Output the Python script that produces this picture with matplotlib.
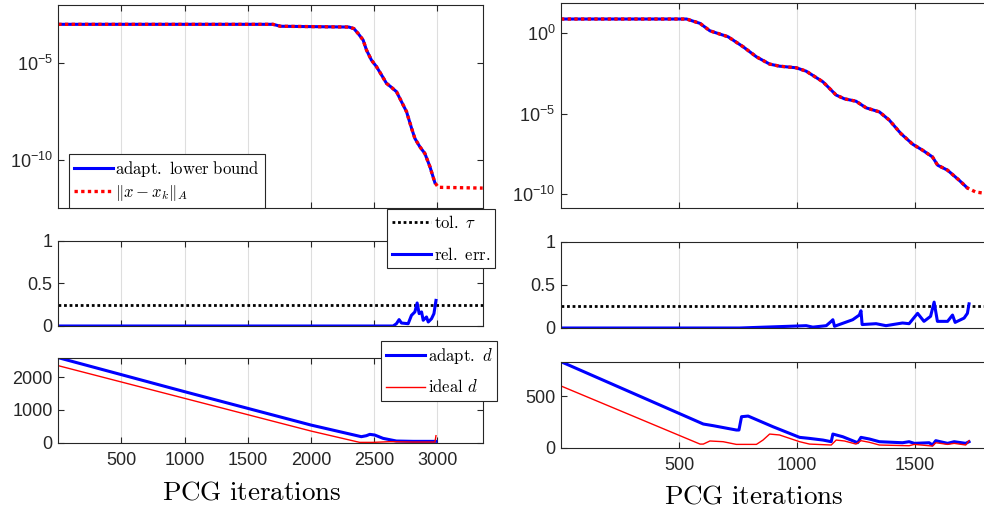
"""Recreate the two-column PCG convergence figure (error bound, rel. error, delay d)."""

import numpy as np
import matplotlib.pyplot as plt
from matplotlib.ticker import FixedLocator, NullLocator, LogFormatterSciNotation

plt.rcParams["font.family"] = ["Liberation Sans", "DejaVu Sans"]
plt.rcParams["mathtext.fontset"] = "cm"

# ---- left problem -------------------------------------------------------
# error norm / lower bound (log10 of value), shared part
left_err_it = [0, 1700, 1760, 2300, 2340, 2373, 2413, 2440, 2479, 2519, 2559,
               2598, 2638, 2678, 2717, 2757, 2797, 2823, 2862, 2902, 2942, 2981]
left_err_exp = [-2.98, -2.98, -3.08, -3.12, -3.20, -3.45, -3.79, -4.31, -4.83,
                -5.17, -5.60, -6.03, -6.24, -6.47, -6.98, -7.50, -8.36, -8.88,
                -9.31, -9.66, -10.34, -11.16]
# the true error keeps going after the bound stops
left_tail_it = [2981, 3008, 3360]
left_tail_exp = [-11.16, -11.41, -11.45]

left_rel_it = [0, 2651, 2677, 2698, 2717, 2770, 2796, 2823, 2841, 2857, 2876,
               2889, 2915, 2929, 2955, 2974, 2990]
left_rel = [0.0, 0.0, 0.027, 0.075, 0.035, 0.027, 0.125, 0.165, 0.27, 0.145,
            0.165, 0.067, 0.106, 0.047, 0.086, 0.145, 0.30]
left_tol = 0.25

left_dadapt_it = [0, 1000, 2000, 2399, 2439, 2466, 2505, 2571, 2677, 2810, 2990]
left_dadapt = [2600, 1560, 540, 184, 214, 255, 235, 133, 51, 41, 41]
left_dideal_it = [0, 1000, 2000, 2386, 2492, 2624, 2810, 2982, 2990]
left_dideal = [2355, 1356, 357, 10, 10, 31, 20, 20, 214]

left_xticks = [500, 1000, 1500, 2000, 2500, 3000]

# ---- right problem ------------------------------------------------------
right_err_it = [0, 532, 589, 631, 708, 772, 828, 884, 926, 997, 1039, 1110,
                1166, 1201, 1250, 1293, 1349, 1391, 1440, 1490, 1532, 1574,
                1596, 1638, 1687, 1722]
right_err_exp = [0.85, 0.85, 0.58, 0.12, -0.25, -0.87, -1.49, -1.94, -2.07,
                 -2.17, -2.38, -3.04, -3.86, -4.09, -4.24, -4.65, -4.90, -5.41,
                 -6.24, -6.90, -7.27, -7.69, -8.20, -8.51, -9.13, -9.61]
right_tail_it = [1722, 1757, 1800]
right_tail_exp = [-9.61, -9.86, -9.95]

right_rel_it = [0, 757, 969, 1039, 1067, 1124, 1145, 1152, 1159, 1236, 1264,
                1271, 1276, 1335, 1377, 1447, 1475, 1511, 1538, 1566, 1581,
                1595, 1638, 1659, 1670, 1708, 1722, 1729]
right_rel = [0.0, 0.0, 0.02, 0.027, 0.01, 0.027, 0.077, 0.096, 0.02, 0.096,
             0.15, 0.2, 0.04, 0.05, 0.027, 0.058, 0.05, 0.17, 0.077, 0.135,
             0.30, 0.077, 0.077, 0.15, 0.065, 0.115, 0.17, 0.28]
right_tol = 0.25

right_dadapt_it = [0, 603, 645, 743, 754, 765, 793, 898, 1011, 1053, 1110,
                   1145, 1152, 1194, 1257, 1271, 1307, 1349, 1447, 1475, 1497,
                   1560, 1574, 1588, 1638, 1666, 1715, 1729]
right_dadapt = [832, 229, 213, 171, 171, 300, 306, 203, 100, 90, 74, 58, 132,
                106, 48, 100, 84, 58, 48, 58, 42, 48, 26, 68, 42, 58, 42, 58]
right_dideal_it = [0, 589, 603, 631, 687, 743, 828, 856, 884, 926, 1011, 1053,
                   1145, 1166, 1201, 1250, 1271, 1307, 1349, 1475, 1497, 1574,
                   1588, 1638, 1666, 1715, 1729]
right_dideal = [597, 35, 35, 65, 58, 32, 32, 74, 132, 123, 58, 35, 26, 74, 65,
                35, 68, 52, 26, 19, 32, 16, 48, 32, 42, 26, 68]

right_xticks = [500, 1000, 1500]

W, H = 984, 512
AX_COLOR = "0.15"


def fig_rect(x0, y0, x1, y1):
    """Convert a pixel box (top-left origin) to a figure-fraction rect."""
    return [x0 / W, 1 - y1 / H, (x1 - x0) / W, (y1 - y0) / H]


def style_axes(ax, xlim, xticks, show_xlabels):
    ax.set_xlim(*xlim)
    ax.xaxis.set_major_locator(FixedLocator(xticks))
    ax.xaxis.set_minor_locator(NullLocator())
    ax.tick_params(axis="both", which="both", direction="in", length=4,
                   width=0.8, color=AX_COLOR, labelcolor=AX_COLOR,
                   labelsize=13, top=True, right=True)
    ax.tick_params(axis="x", pad=7)
    ax.tick_params(axis="y", pad=4)
    if not show_xlabels:
        ax.tick_params(axis="x", labelbottom=False)
    for sp in ax.spines.values():
        sp.set_color(AX_COLOR)
        sp.set_linewidth(0.8)
    ax.grid(axis="x", color="0.87", linewidth=0.8)
    ax.set_axisbelow(True)


def legend_at(ax, fig, x, y, spacing):
    leg = ax.legend(loc="upper left", bbox_to_anchor=(x / W, 1 - y / H),
                    bbox_transform=fig.transFigure, borderaxespad=0,
                    fontsize=12, handlelength=2.35, handletextpad=0.15,
                    labelspacing=spacing, borderpad=0.3, fancybox=False,
                    framealpha=1, edgecolor=AX_COLOR)
    leg.get_frame().set_linewidth(0.8)
    return leg


def plot_column(fig, boxes, xlim, xticks, err, tail, rel, tol, dadapt, dideal,
                log_ticks, ylim_log, ylim_d, d_ticks, with_legends, xlabel_x):
    ax_top = fig.add_axes(fig_rect(*boxes[0]))
    ax_mid = fig.add_axes(fig_rect(*boxes[1]))
    ax_bot = fig.add_axes(fig_rect(*boxes[2]))

    err_it, err_exp = err
    tail_it, tail_exp = tail
    err_vals = 10.0 ** np.array(err_exp)
    true_it = list(err_it) + list(tail_it[1:])
    true_vals = np.concatenate([err_vals, 10.0 ** np.array(tail_exp[1:])])

    ax_top.plot(err_it, err_vals, color="blue", lw=2.2,
                label=r"$\mathrm{adapt.\ lower\ bound}$")
    ax_top.plot(true_it, true_vals, color="red", lw=2.4, ls=(0, (1, 1)),
                label=r"$\|x-x_k\|_A$")
    ax_top.set_yscale("log")
    ax_top.set_ylim(*ylim_log)
    ax_top.yaxis.set_major_locator(FixedLocator(log_ticks))
    ax_top.yaxis.set_major_formatter(LogFormatterSciNotation())
    ax_top.yaxis.set_minor_locator(NullLocator())
    style_axes(ax_top, xlim, xticks, False)

    ax_mid.axhline(tol, color="black", lw=2.0, ls=(0, (1, 1)),
                   label=r"$\mathrm{tol.}\ \tau$")
    ax_mid.plot(rel[0], rel[1], color="blue", lw=2.2,
                label=r"$\mathrm{rel.\ err.}$")
    ax_mid.set_ylim(0, 1)
    ax_mid.set_yticks([0, 0.5, 1], ["0", "0.5", "1"])
    style_axes(ax_mid, xlim, xticks, False)

    ax_bot.plot(dadapt[0], dadapt[1], color="blue", lw=2.2,
                label=r"$\mathrm{adapt.}\ d$")
    ax_bot.plot(dideal[0], dideal[1], color="red", lw=1.0,
                label=r"$\mathrm{ideal}\ d$")
    ax_bot.set_ylim(*ylim_d)
    ax_bot.set_yticks(d_ticks, [str(t) for t in d_ticks])
    style_axes(ax_bot, xlim, xticks, True)

    ax_bot.set_xlabel(r"$\mathrm{PCG\ iterations}$", fontsize=19.5)
    ax_bot.xaxis.label.set_va("center")
    ax_bot.xaxis.set_label_coords(*xlabel_x, transform=fig.transFigure)

    if with_legends:
        legend_at(ax_top, fig, 68.5, 154, 0.25)
        legend_at(ax_mid, fig, 387, 209, 0.9)
        legend_at(ax_bot, fig, 381, 341, 0.75)


def main():
    fig = plt.figure(figsize=(9.84, 5.12), dpi=100)

    plot_column(
        fig,
        boxes=[(58.3, 5, 482.7, 208), (58.3, 240.7, 482.7, 326),
               (58.3, 358, 482.7, 442.7)],
        xlim=(0, 3360), xticks=left_xticks,
        err=(left_err_it, left_err_exp), tail=(left_tail_it, left_tail_exp),
        rel=(left_rel_it, left_rel), tol=left_tol,
        dadapt=(left_dadapt_it, left_dadapt), dideal=(left_dideal_it, left_dideal),
        log_ticks=[1e-10, 1e-5], ylim_log=(10 ** -12.48, 10 ** -1.98),
        ylim_d=(0, 2590), d_ticks=[0, 1000, 2000], with_legends=True,
        xlabel_x=(252 / W, 1 - 493 / H),
    )
    plot_column(
        fig,
        boxes=[(561, 2.7, 1033, 208), (561, 241.7, 1033, 328),
               (561, 361.7, 1033, 447.7)],
        xlim=(0, 2000), xticks=right_xticks,
        err=(right_err_it, right_err_exp), tail=(right_tail_it, right_tail_exp),
        rel=(right_rel_it, right_rel), tol=right_tol,
        dadapt=(right_dadapt_it, right_dadapt), dideal=(right_dideal_it, right_dideal),
        log_ticks=[1e-10, 1e-5, 1e0], ylim_log=(10 ** -10.85, 10 ** 1.86),
        ylim_d=(0, 832), d_ticks=[0, 500], with_legends=False,
        xlabel_x=(754 / W, 1 - 497 / H),
    )

    fig.savefig("out.png", dpi=100)


if __name__ == "__main__":
    main()
